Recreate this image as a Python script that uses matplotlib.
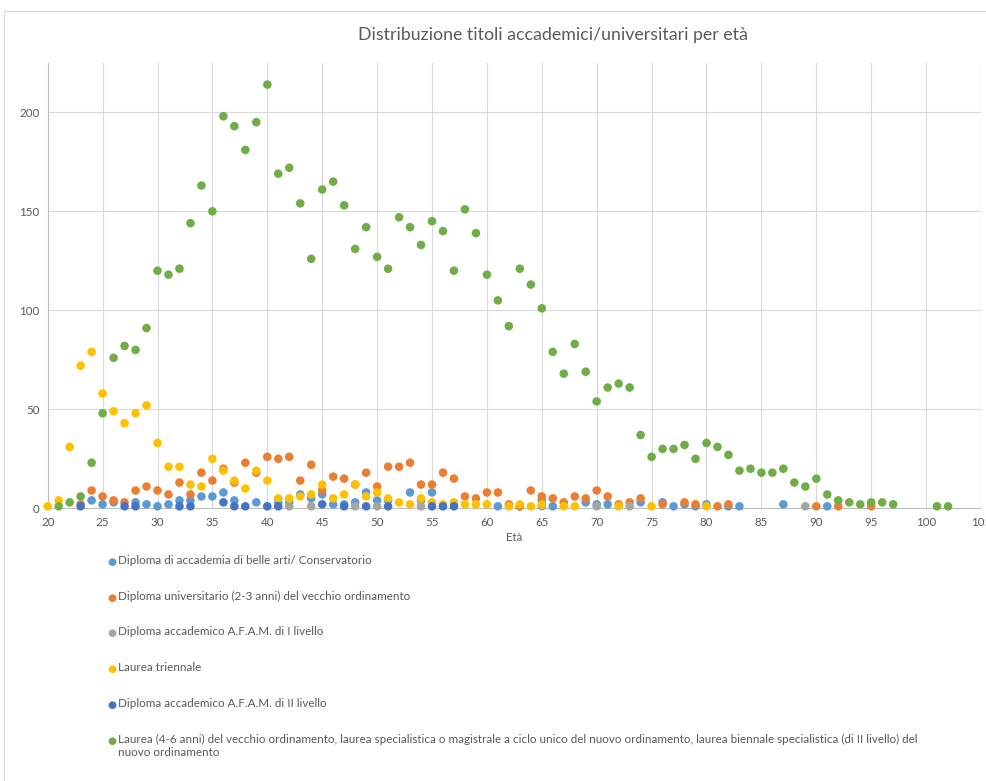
import matplotlib
matplotlib.use("Agg")
import matplotlib.pyplot as plt
from matplotlib.patches import Rectangle

plt.rcParams['font.family'] = ['Lato', 'DejaVu Sans']

TITLE = "Distribuzione titoli accademici/universitari per età"
XLABEL = "Età"

series_names = [
    "Diploma di accademia di belle arti/ Conservatorio",
    "Diploma universitario (2-3 anni) del vecchio ordinamento",
    "Diploma accademico A.F.A.M. di I livello",
    "Laurea triennale",
    "Diploma accademico A.F.A.M. di II livello",
    "Laurea (4-6 anni) del vecchio ordinamento, laurea specialistica o magistrale a ciclo unico del nuovo ordinamento, laurea biennale specialistica (di II livello) del\nnuovo ordinamento",
]
colors = ["#5B9BD5", "#ED7D31", "#A5A5A5", "#FFC000", "#4472C4", "#70AD47"]

belle_arti_age = [24, 25, 26, 28, 29, 30, 31, 32, 33, 34, 35, 36, 37, 39, 41, 42, 43, 44, 45, 46, 47, 48, 49,
                  50, 51, 53, 54, 55, 61, 63, 65, 66, 69, 70, 71, 74, 76, 77, 78, 79, 80, 82, 83, 87, 91]
belle_arti_val = [4, 2, 3, 3, 2, 1, 2, 4, 4, 6, 6, 8, 4, 3, 3, 3, 7, 5, 7, 2, 2, 3, 8,
                  4, 4, 8, 4, 8, 1, 1, 4, 1, 3, 2, 2, 3, 3, 1, 2, 1, 2, 1, 1, 2, 1]

dip_univ_age = [23, 24, 25, 26, 27, 28, 29, 30, 31, 32, 33, 34, 35, 36, 37, 38, 39, 40, 41, 42, 43, 44, 45,
                46, 47, 48, 49, 50, 51, 52, 53, 54, 55, 56, 57, 58, 59, 60, 61, 62, 63, 64, 65, 66, 67,
                68, 69, 70, 71, 72, 73, 74, 76, 78, 79, 81, 82, 90, 92, 95]
dip_univ_val = [2, 9, 6, 4, 3, 9, 11, 9, 7, 13, 7, 18, 14, 20, 13, 23, 18, 26, 25, 26, 14, 22, 9,
                16, 15, 12, 18, 11, 21, 21, 23, 12, 12, 18, 15, 6, 5, 8, 8, 2, 1, 9, 6, 5, 3,
                6, 5, 9, 6, 2, 3, 5, 2, 3, 2, 1, 2, 1, 1, 1]

afam1_age = [42, 44, 48, 50, 54, 65, 70, 73, 89]
afam1_val = [1, 1, 1, 1, 1, 1, 1, 1, 1]

triennale_age = [20, 21, 22, 23, 24, 25, 26, 27, 28, 29, 30, 31, 32, 33, 34, 35, 36, 37, 38, 39, 40, 41, 42,
                 43, 44, 45, 46, 47, 48, 49, 50, 51, 52, 53, 54, 55, 56, 57, 58, 59, 60, 62, 63, 64, 65,
                 67, 68, 72, 75, 80]
triennale_val = [1, 4, 31, 72, 79, 58, 49, 43, 48, 52, 33, 21, 21, 12, 11, 25, 19, 14, 10, 19, 14, 5, 5,
                 6, 7, 12, 5, 7, 12, 6, 8, 5, 3, 2, 5, 3, 2, 3, 2, 2, 2, 1, 2, 1, 2,
                 1, 1, 1, 1, 1]

afam2_age = [23, 27, 28, 32, 33, 36, 37, 38, 40, 41, 45, 47, 49, 51, 55, 56, 57]
afam2_val = [1, 1, 1, 1, 1, 3, 1, 1, 1, 1, 2, 1, 1, 1, 1, 1, 1]

laurea_age = [21, 22, 23, 24, 25, 26, 27, 28, 29, 30, 31, 32, 33, 34, 35, 36, 37, 38, 39, 40, 41, 42, 43,
              44, 45, 46, 47, 48, 49, 50, 51, 52, 53, 54, 55, 56, 57, 58, 59, 60, 61, 62, 63, 64, 65,
              66, 67, 68, 69, 70, 71, 72, 73, 74, 75, 76, 77, 78, 79, 80, 81, 82, 83, 84, 85, 86, 87,
              88, 89, 90, 91, 92, 93, 94, 95, 96, 97, 101, 102]
laurea_val = [1, 3, 6, 23, 48, 76, 82, 80, 91, 120, 118, 121, 144, 163, 150, 198, 193, 181, 195, 214, 169, 172, 154,
              126, 161, 165, 153, 131, 142, 127, 121, 147, 142, 133, 145, 140, 120, 151, 139, 118, 105, 92, 121, 113, 101,
              79, 68, 83, 69, 54, 61, 63, 61, 37, 26, 30, 30, 32, 25, 33, 31, 27, 19, 20, 18, 18, 20,
              13, 11, 15, 7, 4, 3, 2, 3, 3, 2, 1, 1]

ages = [belle_arti_age, dip_univ_age, afam1_age, triennale_age, afam2_age, laurea_age]
vals = [belle_arti_val, dip_univ_val, afam1_val, triennale_val, afam2_val, laurea_val]

x_ticks = list(range(20, 106, 5))
y_ticks = [0, 50, 100, 150, 200]

W, H = 986, 781
fig = plt.figure(figsize=(W / 100, H / 100), dpi=100)
fig.patch.set_facecolor("white")

# chart border
fig.patches.append(Rectangle((4 / W, -0.01), 1.2, 1 - 11 / H + 0.01, transform=fig.transFigure,
                             fill=False, edgecolor="#D9D9D9", linewidth=0.8))

ax = fig.add_axes([47.7 / W, (H - 508.3) / H, (981 - 47.7) / W, (508.3 - 62.8) / H])
for a, v, c in zip(ages, vals, colors):
    ax.scatter(a, v, s=38, color=c, edgecolors="none", zorder=3, clip_on=False)

ax.set_xlim(20, 105)
ax.set_ylim(0, 225)
ax.set_xticks(x_ticks)
ax.set_yticks(y_ticks)
ax.grid(True, color="#D9D9D9", linewidth=0.8, zorder=0)
ax.set_axisbelow(True)
for s in ["top", "right"]:
    ax.spines[s].set_visible(False)
ax.spines["left"].set_color("#BFBFBF")
ax.spines["bottom"].set_color("#BFBFBF")
ax.tick_params(axis="both", length=0, labelsize=8.3, colors="#595959", pad=6)
ax.set_xlabel(XLABEL, fontsize=8.3, color="#595959", labelpad=3)

fig.text(553 / W, 1 - 35 / H, TITLE, ha="center", va="center", fontsize=12.8, color="#595959")

# legend (vertical list below the chart)
leg_y = [562, 598, 633, 669, 705, 741]
for name, c, yy in zip(series_names, colors, leg_y):
    fig.text(112 / W, 1 - yy / H, "\u25CF", ha="center", va="center", fontsize=7.5, color=c,
             family="DejaVu Sans")
    fig.text(118 / W, 1 - (yy - 7) / H, name, ha="left", va="top", fontsize=8.4, color="#595959",
             linespacing=1.25)

fig.savefig("out.png", dpi=100)
